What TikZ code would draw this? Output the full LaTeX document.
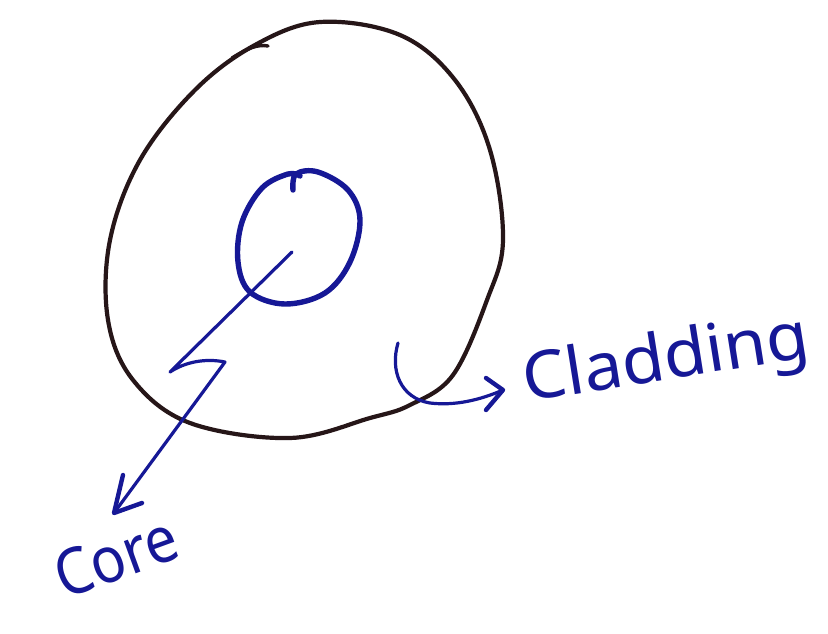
\documentclass[tikz,border=0pt]{standalone}
\usepackage{fontspec}
\setmainfont{Noto Sans}
\definecolor{inkblue}{RGB}{22,24,150}
\definecolor{inkblack}{RGB}{38,22,24}
\tikzset{
  blackink/.style={draw=inkblack, line width=4.2pt, line cap=round, line join=round},
  blueink/.style={draw=inkblue, line width=5.4pt, line cap=round, line join=round},
  bluethin/.style={draw=inkblue, line width=3.2pt, line cap=round, line join=round},
  label/.style={text=inkblue, inner sep=0pt, font=\fontsize{64}{64}\selectfont}
}
\begin{document}
\begin{tikzpicture}[x=1pt,y=-1pt]
\useasboundingbox (0,0) rectangle (828,633);
\fill[white] (0,0) rectangle (828,633);
% cladding (outer circle)
\draw[blackink] plot[smooth cycle, tension=0.6] coordinates {
 (320,22) (400,35) (455,80) (490,150) (503,240) (487,300) (453,375)
 (410,405) (370,418) (290,438) (190,423) (133,380) (108,320) (110,240)
 (140,160) (195,90) (255,45)};
\draw[blackink, line width=3.4pt] (232,58) .. controls (248,48) and (258,44) .. (268,46);
% core (inner circle)
\draw[blueink] plot[smooth, tension=0.6] coordinates {
 (293,190) (296,174) (318,172) (348,190) (360,220) (350,262) (325,293)
 (285,304) (250,292) (238,262) (242,222) (262,188) (288,174) (300,176)};
% labels
\node[label, anchor=base west, rotate=20] (core) at (64,600) {\scalebox{0.9}[1]{Core}};
\node[label, anchor=base west, rotate=9, font=\fontsize{66}{66}\selectfont] (clad) at (526,402) {\scalebox{1.05}[1]{Cladding}};
% core pointer
\coordinate (cc) at (292,252);
\coordinate (z1) at (170,372);
\coordinate (z2) at (225,362);
\coordinate (tip1) at (114,513);
\draw[bluethin] (cc) -- (z1) .. controls (185,362) and (205,358) .. (z2) -- (tip1);
\draw[blueink, line width=4.4pt] (123,475) -- (tip1) -- (142,503);
% cladding pointer
\coordinate (h0) at (398,343);
\coordinate (tip2) at (503,390);
\draw[bluethin] (h0) .. controls (390,370) and (400,398) .. (430,403)
  .. controls (455,406) and (480,400) .. (tip2);
\draw[blueink, line width=4.4pt] (486,378) -- (tip2) -- (486,410);
\end{tikzpicture}
\end{document}
